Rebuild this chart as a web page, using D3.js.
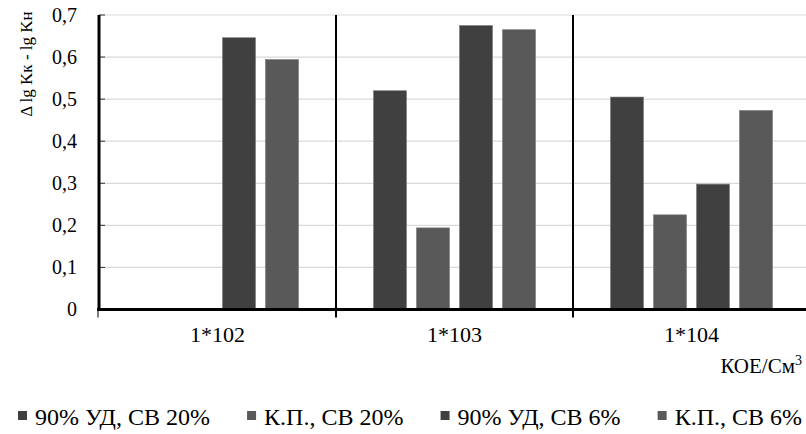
<!DOCTYPE html>
<html><head><meta charset="utf-8">
<script src="https://cdn.jsdelivr.net/npm/d3@7"></script>
<style>
html,body{margin:0;padding:0;background:#fff;}
svg text{font-family:'Liberation Serif','Times New Roman',Times,'DejaVu Serif',serif !important;}
</style></head>
<body>
<svg id="chart" width="806" height="434"></svg>
<script>
const categories = ["1*102", "1*103", "1*104"];
const seriesNames = ["90% УД, СВ 20%", "К.П., СВ 20%", "90% УД, СВ 6%", "К.П., СВ 6%"];
const seriesColors = ["#404040", "#595959", "#404040", "#595959"];
const s1 = [0, 0.52, 0.505];
const s2 = [0, 0.194, 0.225];
const s3 = [0.646, 0.675, 0.298];
const s4 = [0.594, 0.665, 0.473];
const yTicks = [0, 0.1, 0.2, 0.3, 0.4, 0.5, 0.6, 0.7];
const yLabel = "Δ lg Kк - lg Kн";
const xLabel = "КОЕ/См";
const xLabelSup = "3";
const seriesValues = [s1, s2, s3, s4];

(function () {
const svg = d3.select("#chart");
const pl = 99, pr = 810, pt = 15, pb = 309.5;

const x0 = d3.scaleBand().domain(categories).range([pl, pr]).paddingInner(0).paddingOuter(0);
const x1 = d3.scaleBand().domain(d3.range(4)).range([0, x0.bandwidth()]).paddingInner(0.2326).paddingOuter(0.872);
const y = d3.scaleLinear().domain([0, 0.7]).range([pb, pt]);

// gridlines
svg.append("g").selectAll("line").data(yTicks.filter(d => d > 0)).join("line")
  .attr("x1", pl).attr("x2", 806)
  .attr("y1", d => y(d)).attr("y2", d => y(d))
  .attr("stroke", "#d9d9d9").attr("stroke-width", 1.2);

// bars
const groups = svg.append("g").selectAll("g").data(categories).join("g")
  .attr("transform", d => `translate(${x0(d)},0)`);
groups.selectAll("rect").data((c, ci) => seriesValues.map((s, si) => ({si, v: s[ci]})).filter(d => d.v > 0))
  .join("rect")
  .attr("x", d => x1(d.si))
  .attr("width", x1.bandwidth())
  .attr("y", d => y(d.v))
  .attr("height", d => y(0) - y(d.v))
  .attr("fill", d => seriesColors[d.si])
  .attr("stroke", "#7a7a7a").attr("stroke-width", 0.6);

// category dividers
svg.append("g").selectAll("line").data(categories.slice(1)).join("line")
  .attr("x1", d => x0(d)).attr("x2", d => x0(d))
  .attr("y1", pt).attr("y2", pb + 8)
  .attr("stroke", "#000").attr("stroke-width", 2);

// y axis
const yAxis = d3.axisLeft(y).tickValues(yTicks).tickSize(0).tickPadding(22)
  .tickFormat(d => d === 0 ? "0" : d3.format(".1f")(d).replace(".", ","));
const ya = svg.append("g").attr("transform", `translate(${pl},0)`).call(yAxis);
ya.select(".domain").remove();
ya.selectAll("text").attr("font-size", 20).attr("fill", "#000");
// inner ticks
svg.append("g").selectAll("line").data(yTicks).join("line")
  .attr("x1", pl).attr("x2", pl + 6)
  .attr("y1", d => y(d)).attr("y2", d => y(d))
  .attr("stroke", "#333").attr("stroke-width", 1);
svg.append("line").attr("x1", pl).attr("x2", pl).attr("y1", pt).attr("y2", pb + 1.5)
  .attr("stroke", "#000").attr("stroke-width", 3);
svg.append("line").attr("x1", pl - 1).attr("x2", pl - 1).attr("y1", pb).attr("y2", pb + 8)
  .attr("stroke", "#000").attr("stroke-width", 1);

// x axis
const xAxis = d3.axisBottom(x0).tickSize(0).tickPadding(17);
const xa = svg.append("g").attr("transform", `translate(0,${pb})`).call(xAxis);
xa.select(".domain").remove();
xa.selectAll("text").attr("font-size", 22).attr("fill", "#000");
svg.append("line").attr("x1", pl - 2).attr("x2", 806).attr("y1", pb).attr("y2", pb)
  .attr("stroke", "#000").attr("stroke-width", 3);

// y label
svg.append("text")
  .attr("transform", `translate(32,64) rotate(-90)`)
  .attr("text-anchor", "middle")
  .attr("font-size", 17)
  .text(yLabel);

// x label
const xl = svg.append("text").attr("x", 802).attr("y", 373).attr("text-anchor", "end").attr("font-size", 21);
xl.append("tspan").text(xLabel);
xl.append("tspan").attr("font-size", 14).attr("dy", -8).text(xLabelSup);

// legend
const leg = svg.append("g").attr("transform", "translate(0,425)");
const widths = [];
const gs = seriesNames.map((n, i) => {
  const g = leg.append("g");
  g.append("rect").attr("x", 0).attr("y", -14).attr("width", 9).attr("height", 9).attr("fill", seriesColors[i]);
  const t = g.append("text").attr("x", 17).attr("y", 0).attr("font-size", 24).text(n);
  widths.push(17 + t.node().getComputedTextLength());
  return g;
});
const startX = 18, endX = 802;
const gap = (endX - startX - d3.sum(widths)) / (widths.length - 1);
let cx = startX;
gs.forEach((g, i) => { g.attr("transform", `translate(${cx},0)`); cx += widths[i] + gap; });
})();
</script>
</body></html>
